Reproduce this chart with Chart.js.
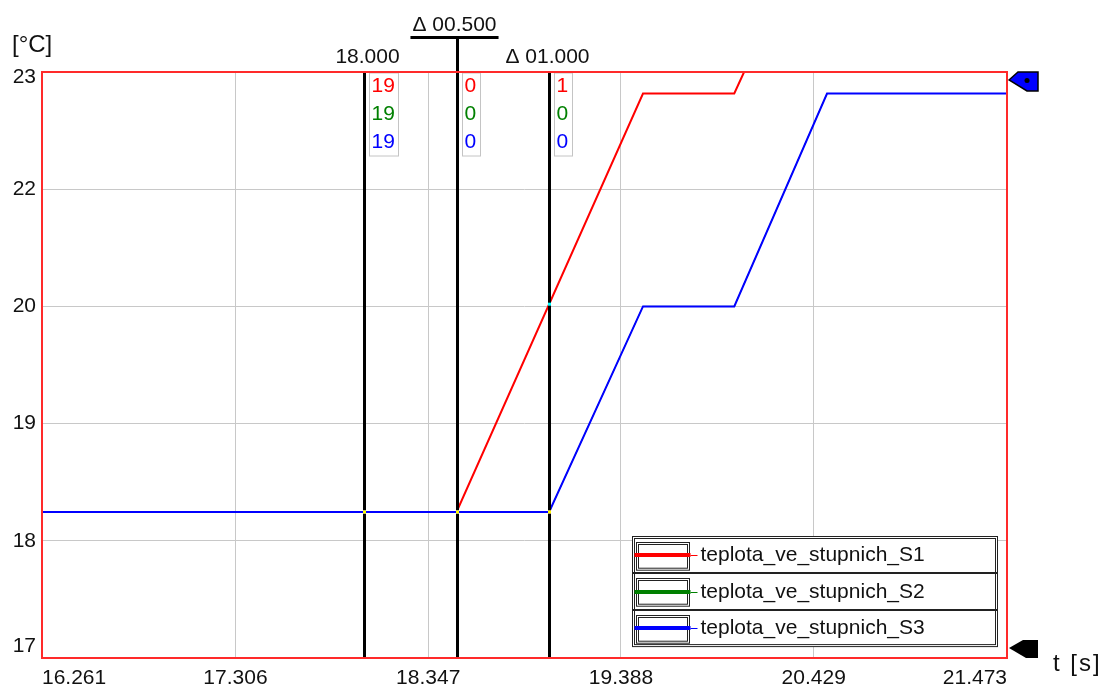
<!DOCTYPE html>
<html>
<head>
<meta charset="utf-8">
<title>teplota_ve_stupnich</title>
<script src="https://cdn.jsdelivr.net/npm/chart.js@4/dist/chart.umd.min.js"></script>
<style>
  html, body { margin: 0; padding: 0; background: #ffffff; }
  #wrap { width: 1101px; height: 688px; }
</style>
</head>
<body>
<div id="wrap"><canvas id="c" width="1101" height="688"></canvas></div>
<script>
// ---- data ----------------------------------------------------------------
const seriesNames  = ['teplota_ve_stupnich_S1', 'teplota_ve_stupnich_S2', 'teplota_ve_stupnich_S3'];
const seriesColors = ['#ff0000', '#008000', '#0000ff'];
const seriesWidths = [2, 1, 2];

// time [s] / temperature [°C]
const timeS1 = [16.261, 18.5, 19.507, 20.0, 20.053];
const tempS1 = [18.495, 18.495, 22.78, 22.78, 23.0];
const timeS2 = [16.261, 19.0, 19.507, 20.0, 20.501, 21.473];
const tempS2 = [18.495, 18.495, 20.6, 20.6, 22.78, 22.78];
const timeS3 = [16.261, 19.0, 19.507, 20.0, 20.501, 21.473];
const tempS3 = [18.495, 18.495, 20.6, 20.6, 22.78, 22.78];

const xTickValues = [16.261, 17.306, 18.347, 19.388, 20.429, 21.473];
const xTickLabels = ['16.261', '17.306', '18.347', '19.388', '20.429', '21.473'];
const yTickValues = [17, 18.2, 19.4, 20.6, 21.8, 23];
const yTickLabels = ['17', '18', '19', '20', '22', '23'];

// measurement cursors and their readouts per series
const cursorTimes  = [18.0, 18.5, 19.0];
const cursorTitles = ['18.000', 'Δ 00.500', 'Δ 01.000'];
const readS1 = ['19', '0', '1'];
const readS2 = ['19', '0', '0'];
const readS3 = ['19', '0', '0'];

const yUnit = '[°C]';
const xUnit = 't [s]';

// ---- helpers -------------------------------------------------------------
const seriesTimes = [timeS1, timeS2, timeS3];
const seriesTemps = [tempS1, tempS2, tempS3];
const readouts = [readS1, readS2, readS3];
const FONT = '"Liberation Sans", Arial, sans-serif';

function toPoints(xs, ys) { return xs.map((x, i) => ({ x: x, y: ys[i] })); }

function valueAt(xs, ys, t) {
  for (let k = 0; k < xs.length - 1; k++) {
    if (t >= xs[k] && t <= xs[k + 1]) {
      return ys[k] + (ys[k + 1] - ys[k]) * (t - xs[k]) / (xs[k + 1] - xs[k]);
    }
  }
  return null;
}

function invertColor(hex) {
  const n = parseInt(hex.slice(1), 16);
  const r = 255 - ((n >> 16) & 255), g = 255 - ((n >> 8) & 255), b = 255 - (n & 255);
  return 'rgb(' + r + ',' + g + ',' + b + ')';
}

function seg(ctx, x1, y1, x2, y2) {
  ctx.beginPath(); ctx.moveTo(x1, y1); ctx.lineTo(x2, y2); ctx.stroke();
}

// ---- decorations drawn around the plot ------------------------------------
const background = {
  id: 'background',
  beforeDraw(chart) {
    const ctx = chart.ctx;
    ctx.save();
    ctx.fillStyle = '#ffffff';
    ctx.fillRect(0, 0, chart.width, chart.height);
    ctx.restore();
  }
};

const overlay = {
  id: 'overlay',
  afterDraw(chart) {
    const ctx = chart.ctx;
    const ca = chart.chartArea;
    const xs = chart.scales.x, ys = chart.scales.y;
    ctx.save();

    // y tick labels, kept inside the plot height
    ctx.font = '21px ' + FONT;
    ctx.fillStyle = '#111';
    ctx.textAlign = 'right';
    ctx.textBaseline = 'middle';
    yTickValues.forEach((v, i) => {
      let py = ys.getPixelForValue(v);
      py = Math.min(Math.max(py, ca.top + 5), ca.bottom - 12);
      ctx.fillText(yTickLabels[i], ca.left - 6, py);
    });

    // axis units
    ctx.font = '24px ' + FONT;
    ctx.textAlign = 'left';
    ctx.fillText(yUnit, 12, ca.top - 27);
    if ('letterSpacing' in ctx) ctx.letterSpacing = '2px';
    ctx.fillText(xUnit, ca.right + 46, ca.bottom + 6);
    if ('letterSpacing' in ctx) ctx.letterSpacing = '0px';

    // cursors
    cursorTimes.forEach((t, ci) => {
      const px = Math.round(xs.getPixelForValue(t)) + 0.5;
      ctx.strokeStyle = '#000';
      ctx.lineWidth = 3;
      const topY = ci === 1 ? ca.top - 34 : ca.top;
      seg(ctx, px, topY, px, ca.bottom);

      ctx.font = '21px ' + FONT;
      ctx.fillStyle = '#111';
      ctx.textAlign = 'center';
      ctx.textBaseline = 'middle';
      if (ci === 1) {
        const w = ctx.measureText(cursorTitles[ci]).width;
        const cx = px - 3;
        ctx.fillText(cursorTitles[ci], cx, ca.top - 47);
        ctx.lineWidth = 3;
        seg(ctx, cx - w / 2 - 2, ca.top - 34.5, cx + w / 2 + 2, ca.top - 34.5);
      } else {
        ctx.fillText(cursorTitles[ci], px + (ci === 0 ? 3 : -2), ca.top - 15);
      }

      // readout box
      ctx.font = '21px ' + FONT;
      let tw = 0;
      readouts.forEach(r => { tw = Math.max(tw, ctx.measureText(r[ci]).width); });
      const bx = Math.round(px + 4) + 0.5;
      const bw = Math.round(tw + 6);
      ctx.fillStyle = '#ffffff';
      ctx.fillRect(bx, ca.top + 1, bw, 83);
      ctx.strokeStyle = '#c4c4c4';
      ctx.lineWidth = 1;
      ctx.strokeRect(bx, ca.top + 1, bw, 83);
      ctx.textAlign = 'left';
      readouts.forEach((r, si) => {
        ctx.fillStyle = seriesColors[si];
        ctx.fillText(r[ci], bx + 2, ca.top + 14 + si * 28);
      });

      // intersection markers in inverted series colour
      seriesTimes.forEach((xsArr, si) => {
        const v = valueAt(xsArr, seriesTemps[si], t);
        if (v === null) return;
        const py = ys.getPixelForValue(v);
        ctx.fillStyle = invertColor(seriesColors[si]);
        ctx.fillRect(px - 1.5, py - 1.5, 3, 3);
      });
    });

    // plot frame
    ctx.strokeStyle = '#ff2a2a';
    ctx.lineWidth = 2;
    ctx.strokeRect(ca.left, ca.top, ca.right - ca.left, ca.bottom - ca.top);

    // legend box
    const lw = 365, rowH = 36.7;
    const lx = Math.round(ca.right - 10 - lw) + 0.5;
    const ly = Math.round(ca.bottom - 12 - rowH * 3) + 0.5;
    ctx.fillStyle = '#ffffff';
    ctx.fillRect(lx, ly, lw, rowH * 3);
    ctx.strokeStyle = '#222';
    ctx.lineWidth = 1;
    ctx.strokeRect(lx, ly, lw, rowH * 3);
    ctx.strokeRect(lx + 2, ly + 2, lw - 4, rowH * 3 - 4);
    seriesNames.forEach((name, si) => {
      const ry = ly + si * rowH;
      if (si > 0) {
        ctx.strokeStyle = '#222';
        ctx.lineWidth = 2;
        seg(ctx, lx, Math.round(ry), lx + lw, Math.round(ry));
      }
      ctx.strokeStyle = '#222';
      ctx.lineWidth = 1;
      ctx.strokeRect(lx + 4, Math.round(ry + 5) + 0.5, 53, rowH - 9);
      ctx.strokeRect(lx + 6, Math.round(ry + 7) + 0.5, 49, rowH - 13);
      const cy = Math.round(ry + rowH / 2);
      ctx.strokeStyle = seriesColors[si];
      ctx.lineWidth = 4;
      seg(ctx, lx + 2, cy, lx + 58, cy);
      ctx.lineWidth = 1;
      seg(ctx, lx + 58, cy + 0.5, lx + 65, cy + 0.5);
      ctx.fillStyle = '#111';
      ctx.font = '21px ' + FONT;
      ctx.textAlign = 'left';
      ctx.textBaseline = 'middle';
      ctx.fillText(name, lx + 68, cy);
    });

    // y range markers on the right edge
    const R = ca.right, T = ca.top, B = ca.bottom;
    ctx.lineWidth = 1.5;
    ctx.strokeStyle = '#000';
    ctx.fillStyle = '#0000ff';
    ctx.beginPath();
    ctx.moveTo(R + 2, T + 8);
    ctx.lineTo(R + 11, T);
    ctx.lineTo(R + 31, T);
    ctx.lineTo(R + 31, T + 19);
    ctx.lineTo(R + 20, T + 19);
    ctx.closePath();
    ctx.fill(); ctx.stroke();
    ctx.fillStyle = '#000';
    ctx.beginPath();
    ctx.arc(R + 20, T + 8.5, 2.5, 0, Math.PI * 2);
    ctx.fill();

    ctx.beginPath();
    ctx.moveTo(R + 2, B - 10);
    ctx.lineTo(R + 16, B - 18);
    ctx.lineTo(R + 31, B - 18);
    ctx.lineTo(R + 31, B);
    ctx.lineTo(R + 19, B);
    ctx.closePath();
    ctx.fill();

    ctx.restore();
  }
};

// ---- chart ---------------------------------------------------------------
const datasets = seriesNames.map((name, i) => ({
  label: name,
  data: toPoints(seriesTimes[i], seriesTemps[i]),
  borderColor: seriesColors[i],
  backgroundColor: seriesColors[i],
  borderWidth: seriesWidths[i],
  pointRadius: 0,
  tension: 0,
  fill: false,
  order: seriesNames.length - 1 - i
}));

new Chart(document.getElementById('c'), {
  type: 'line',
  data: { datasets: datasets },
  options: {
    responsive: false,
    animation: false,
    devicePixelRatio: 1,
    layout: { padding: { left: 0, top: 72, right: 94, bottom: 0 } },
    plugins: { legend: { display: false }, tooltip: { enabled: false } },
    scales: {
      x: {
        type: 'linear',
        min: timeS1[0],
        max: xTickValues[xTickValues.length - 1],
        afterBuildTicks(scale) { scale.ticks = xTickValues.map(v => ({ value: v })); },
        afterFit(scale) { scale.height = 30; },
        ticks: {
          align: 'inner',
          padding: 8,
          color: '#111',
          font: { family: FONT, size: 21 },
          callback: (v, i) => xTickLabels[i]
        },
        grid: { color: '#c8c8c8', lineWidth: 1, drawTicks: false },
        border: { display: false }
      },
      y: {
        type: 'linear',
        min: yTickValues[0],
        max: yTickValues[yTickValues.length - 1],
        afterBuildTicks(scale) { scale.ticks = yTickValues.map(v => ({ value: v })); },
        afterFit(scale) { scale.width = 42; },
        ticks: { display: false },
        grid: { color: '#c8c8c8', lineWidth: 1, drawTicks: false },
        border: { display: false }
      }
    }
  },
  plugins: [background, overlay]
});
</script>
</body>
</html>
